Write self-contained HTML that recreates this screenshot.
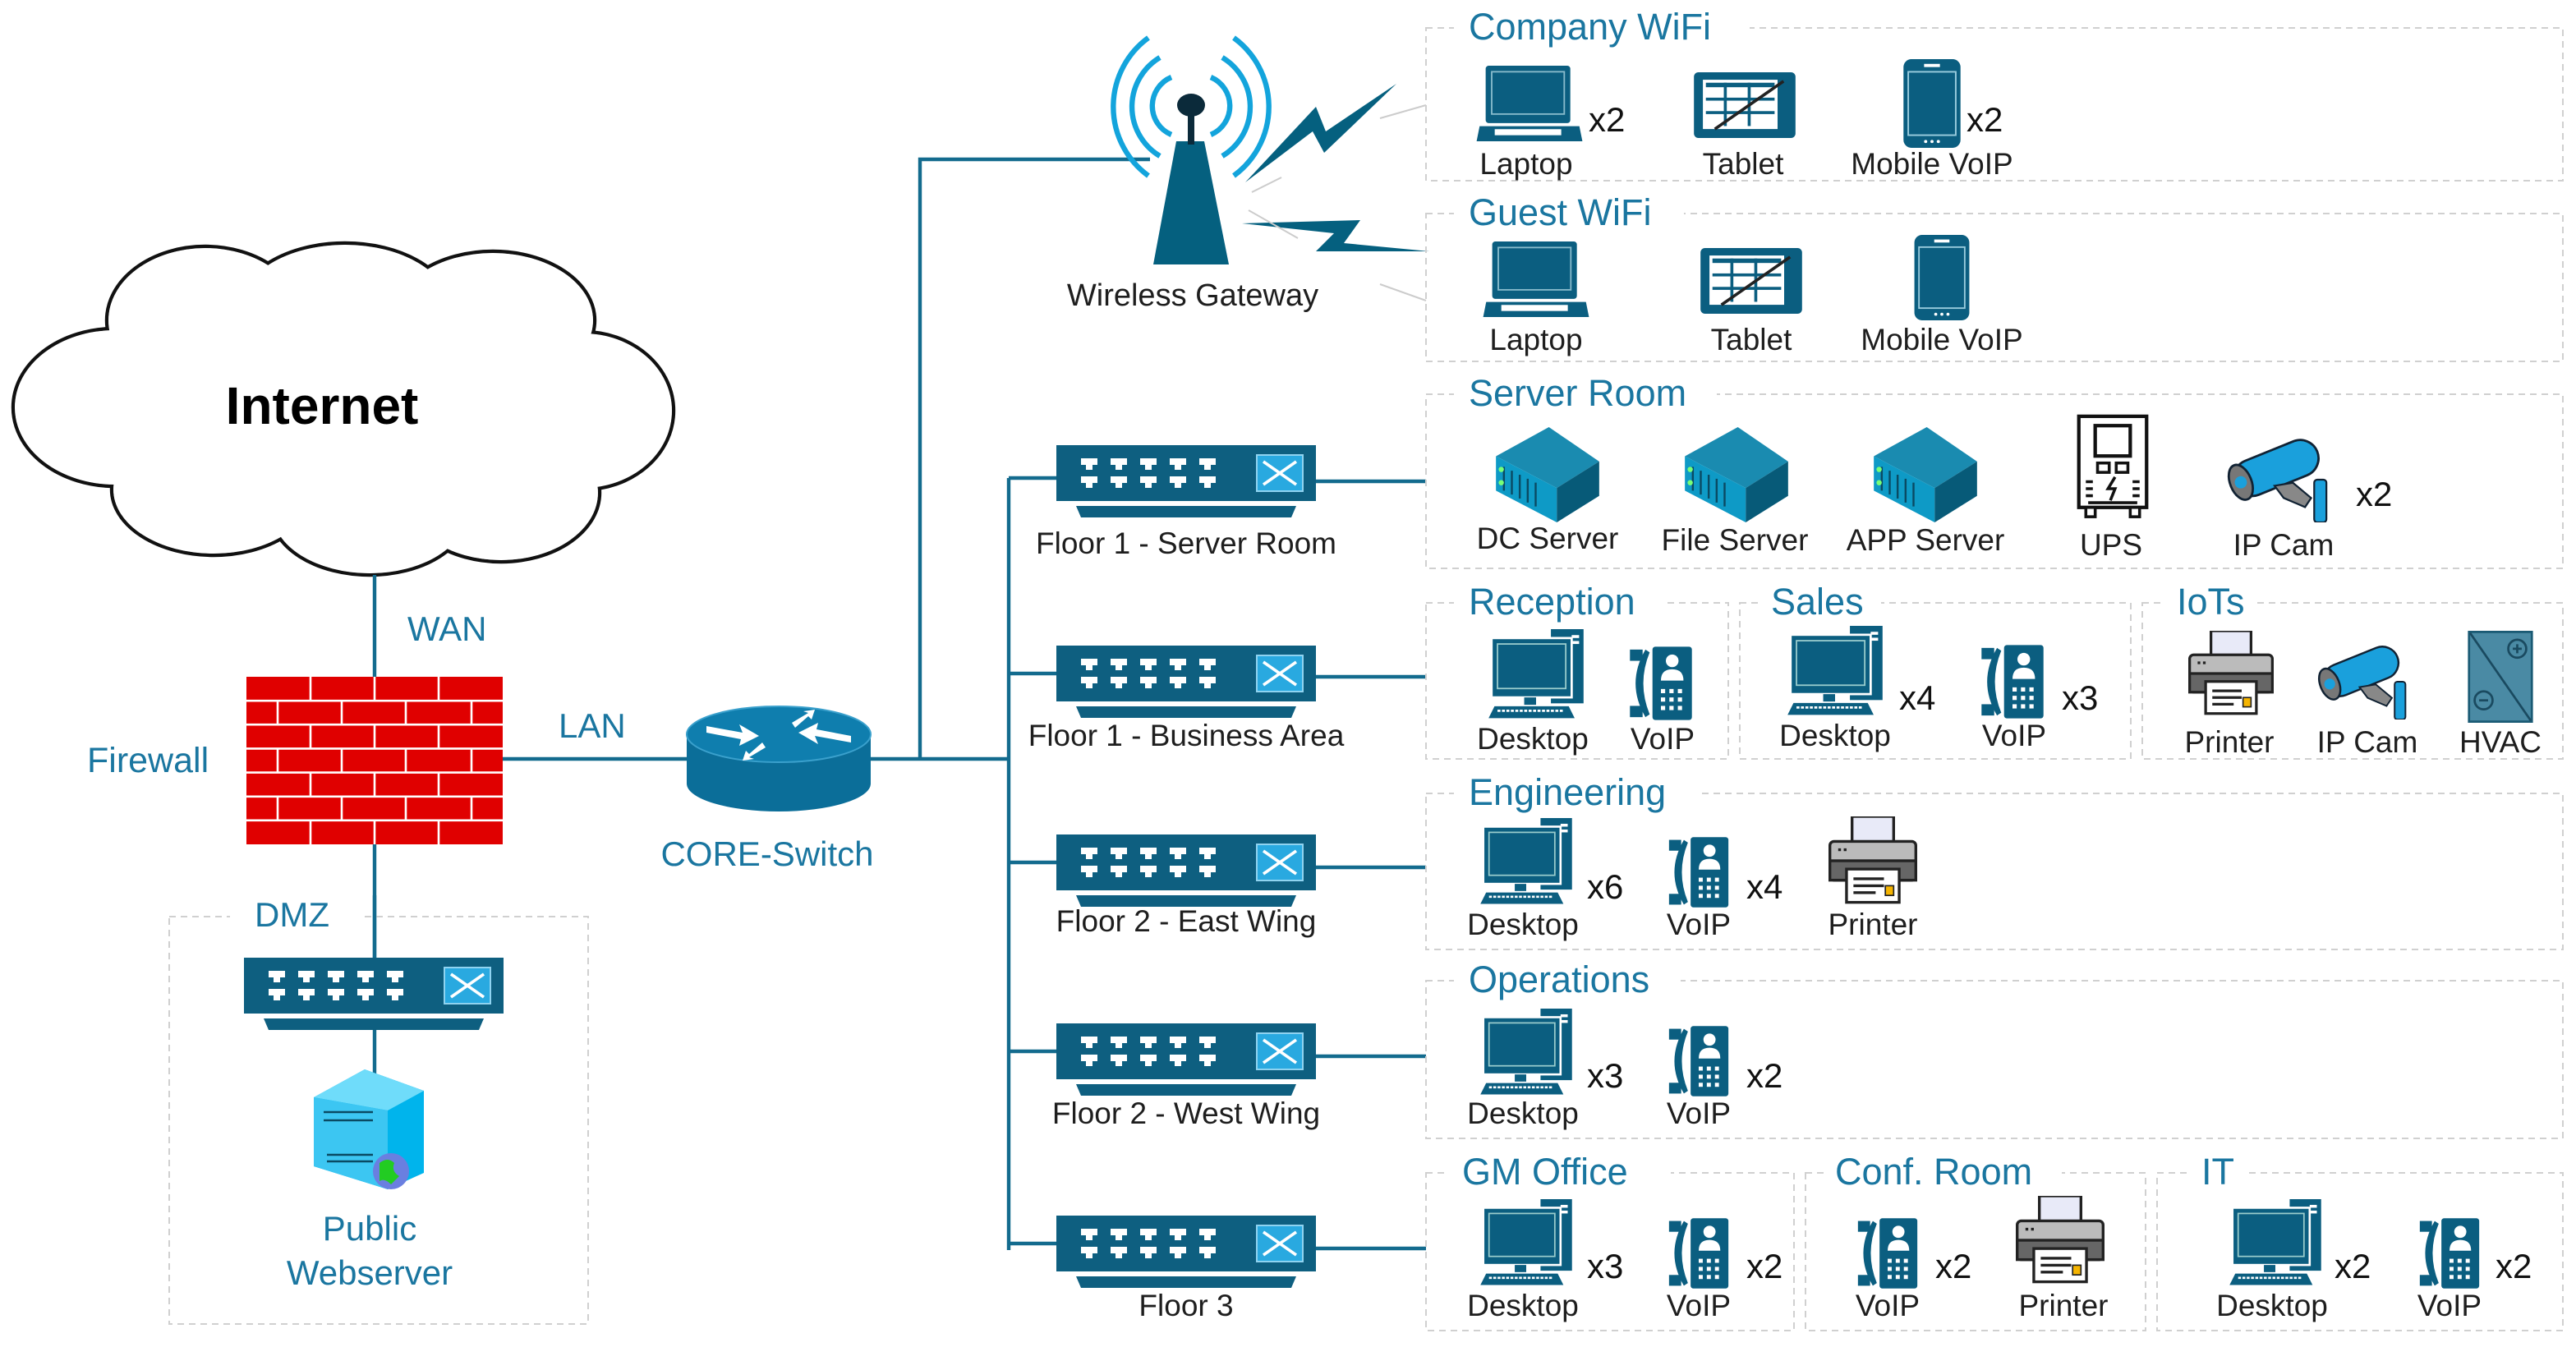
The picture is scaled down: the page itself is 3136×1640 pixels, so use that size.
<!DOCTYPE html>
<html><head><meta charset="utf-8"><style>
html,body{margin:0;padding:0;background:#fff}
svg{display:block}
text{font-family:"Liberation Sans",sans-serif}
.t{fill:#1a76a0;font-size:22.5px}
.l{fill:#1e1e1e;font-size:18.5px;text-anchor:middle}
.x{fill:#111;font-size:21px}
.b{fill:none;stroke:#d0d0d0;stroke-width:1;stroke-dasharray:4 3}
.ln{stroke:#136b8e;stroke-width:2.2;fill:none}
</style></head><body>
<svg width="3136" height="1640" viewBox="0 0 1568 820" xmlns="http://www.w3.org/2000/svg">
<defs>
<symbol id="sw" viewBox="0 0 158 44">
<rect x="0" y="0" width="158" height="34" fill="#0e5f80"/>
<g fill="#fff">
<path d="M15 8h10v4h-3v3h-4v-3h-3z M33 8h10v4h-3v3h-4v-3h-3z M51 8h10v4h-3v3h-4v-3h-3z M69 8h10v4h-3v3h-4v-3h-3z M87 8h10v4h-3v3h-4v-3h-3z"/>
<path d="M15 19h10v4h-3v3h-4v-3h-3z M33 19h10v4h-3v3h-4v-3h-3z M51 19h10v4h-3v3h-4v-3h-3z M69 19h10v4h-3v3h-4v-3h-3z M87 19h10v4h-3v3h-4v-3h-3z"/>
</g>
<rect x="122" y="6" width="28" height="22" fill="#29a9e0" stroke="#8fd3f0" stroke-width="1"/>
<path d="M126 10l20 14M146 10l-20 14" stroke="#fff" stroke-width="1.8"/>
<polygon points="12,37 146,37 143,44 15,44" fill="#0e5f80"/>
</symbol>
<symbol id="desk" viewBox="0 0 72 62">
<rect x="46" y="0" width="22" height="50" fill="#0b5e80"/>
<rect x="60" y="4" width="5" height="2" fill="#fff"/><rect x="60" y="8" width="5" height="2" fill="#fff"/>
<rect x="6" y="6" width="54" height="40" fill="#0b5e80" stroke="#fff" stroke-width="1.5"/>
<rect x="10" y="10" width="46" height="30" fill="#0b5e80" stroke="#9cc" stroke-width="1"/>
<rect x="28" y="46" width="8" height="5" fill="#0b5e80"/>
<polygon points="8,52 58,52 62,60 4,60" fill="#0b5e80"/>
<path d="M10 55h44" stroke="#fff" stroke-width="1.5" stroke-dasharray="2 1"/>
</symbol>
<symbol id="voip" viewBox="0 0 50 56">
<path d="M14 4 Q0 28 14 52 L17 50 Q8 28 17 6Z" fill="#0b5e80"/>
<rect x="3" y="4" width="9" height="8" fill="#0b5e80"/><rect x="3" y="44" width="9" height="8" fill="#0b5e80"/>
<rect x="19" y="2" width="28" height="52" rx="2" fill="#0b5e80"/>
<circle cx="33" cy="12" r="4.5" fill="#fff"/>
<path d="M25 26 Q25 18 33 18 Q41 18 41 26Z" fill="#fff"/>
<g fill="#fff"><rect x="25" y="32" width="3" height="3"/><rect x="31" y="32" width="3" height="3"/><rect x="37" y="32" width="3" height="3"/><rect x="25" y="38" width="3" height="3"/><rect x="31" y="38" width="3" height="3"/><rect x="37" y="38" width="3" height="3"/><rect x="25" y="44" width="3" height="3"/><rect x="31" y="44" width="3" height="3"/><rect x="37" y="44" width="3" height="3"/></g>
</symbol>
<symbol id="prn" viewBox="0 0 66 64">
<rect x="18" y="0" width="30" height="20" fill="#e8eaf8" stroke="#222" stroke-width="2"/>
<rect x="2" y="18" width="62" height="28" rx="3" fill="#bbb" stroke="#222" stroke-width="2"/>
<rect x="2" y="32" width="62" height="14" fill="#666" stroke="#222" stroke-width="2"/>
<rect x="14" y="38" width="38" height="24" fill="#fff" stroke="#222" stroke-width="2"/>
<path d="M19 45h22M19 50h22M19 55h16" stroke="#222" stroke-width="2"/>
<rect x="42" y="50" width="6" height="7" fill="#f5b400" stroke="#222"/>
<path d="M8 24h8" stroke="#222" stroke-width="2" stroke-dasharray="2 2"/>
</symbol>
<symbol id="lap" viewBox="0 0 70 50">
<rect x="6" y="0" width="56" height="38" rx="2" fill="#0b5e80"/>
<rect x="10" y="4" width="48" height="28" fill="#0b5e80" stroke="#8bc" stroke-width="1"/>
<polygon points="2,40 68,40 70,50 0,50" fill="#0b5e80"/>
<rect x="12" y="42" width="44" height="4" fill="#fff"/>
</symbol>
<symbol id="tab" viewBox="0 0 68 44">
<rect x="0" y="0" width="68" height="44" rx="3" fill="#0b5e80"/>
<rect x="6" y="5" width="50" height="33" fill="#fff"/>
<g fill="#0b5e80"><rect x="8" y="7" width="46" height="3"/><rect x="20" y="7" width="2" height="29"/><rect x="36" y="7" width="2" height="29"/><rect x="8" y="17" width="46" height="2"/><rect x="8" y="26" width="46" height="2"/></g>
<path d="M14 38 L60 6" stroke="#222" stroke-width="2"/>
</symbol>
<symbol id="mob" viewBox="0 0 36 56">
<rect x="0" y="0" width="36" height="56" rx="5" fill="#0b5e80"/>
<rect x="3" y="8" width="30" height="40" fill="#0b5e80" stroke="#9cd" stroke-width="1"/>
<rect x="13" y="3" width="10" height="2" fill="#fff"/>
<circle cx="14" cy="52" r="1" fill="#fff"/><circle cx="18" cy="52" r="1" fill="#fff"/><circle cx="22" cy="52" r="1" fill="#fff"/>
</symbol>
<symbol id="srv" viewBox="0 0 86 72">
<polygon points="44,0 82,26 50,46 4,22" fill="#1a8bb0"/>
<polygon points="4,22 50,46 50,72 4,48" fill="#0e9ac6"/>
<polygon points="50,46 82,26 82,52 50,72" fill="#075a78"/>
<g stroke="#0a4a63" stroke-width="1.5"><path d="M10 30v18M16 33v18M22 36v18M28 39v18M34 42v18"/></g>
<circle cx="8" cy="32" r="2" fill="#7f7"/><circle cx="8" cy="42" r="2" fill="#7f7"/>
</symbol>
<symbol id="ups" viewBox="0 0 62 90">
<rect x="2" y="2" width="58" height="78" fill="#fff" stroke="#111" stroke-width="3"/>
<rect x="16" y="10" width="30" height="26" fill="#fff" stroke="#111" stroke-width="3"/>
<rect x="18" y="42" width="10" height="8" fill="#fff" stroke="#111" stroke-width="2.5"/><rect x="34" y="42" width="10" height="8" fill="#fff" stroke="#111" stroke-width="2.5"/>
<path d="M33 54 l-6 10 h6 l-4 10" stroke="#111" stroke-width="2.5" fill="none"/>
<path d="M8 58h6M8 64h6M8 70h6M48 58h6M48 64h6M48 70h6M10 76h42" stroke="#111" stroke-width="2.5"/>
<rect x="8" y="80" width="8" height="8" fill="#fff" stroke="#111" stroke-width="2.5"/><rect x="46" y="80" width="8" height="8" fill="#fff" stroke="#111" stroke-width="2.5"/>
</symbol>
<symbol id="cam" viewBox="0 0 82 56">
<g transform="rotate(-22 36 20)">
<rect x="6" y="8" width="58" height="24" rx="12" fill="#1aa0dc" stroke="#123" stroke-width="1.5"/>
<ellipse cx="10" cy="20" rx="7" ry="12" fill="#777" stroke="#123" stroke-width="1.5"/>
<circle cx="10" cy="20" r="4" fill="#1aa0dc"/>
</g>
<polygon points="34,32 46,30 58,40 54,46 40,40" fill="#888" stroke="#123" stroke-width="1.2"/>
<rect x="60" y="28" width="8" height="28" rx="2" fill="#1aa0dc" stroke="#123" stroke-width="1.2"/>
</symbol>
<symbol id="hvac" viewBox="0 0 58 82">
<rect x="1" y="1" width="56" height="80" fill="#4a8aa4" stroke="#1a5a74" stroke-width="2"/>
<path d="M2 2L56 80" stroke="#1a4a60" stroke-width="2"/>
<circle cx="44" cy="16" r="8" fill="none" stroke="#1a4a60" stroke-width="2"/><path d="M40 16h8M44 12v8" stroke="#1a4a60" stroke-width="2"/>
<circle cx="14" cy="62" r="8" fill="none" stroke="#1a4a60" stroke-width="2"/><path d="M10 62h8" stroke="#1a4a60" stroke-width="2"/>
</symbol>
</defs>

<!-- Cloud -->
<g stroke="#111" stroke-width="2.2" fill="#fff">
<ellipse cx="70" cy="248" rx="62" ry="48"/><ellipse cx="125" cy="195" rx="60" ry="45"/><ellipse cx="210" cy="188" rx="65" ry="40"/>
<ellipse cx="300" cy="195" rx="62" ry="42"/><ellipse cx="355" cy="250" rx="55" ry="48"/><ellipse cx="305" cy="300" rx="60" ry="42"/>
<ellipse cx="225" cy="312" rx="60" ry="38"/><ellipse cx="130" cy="298" rx="62" ry="40"/>
</g>
<g fill="#fff">
<ellipse cx="70" cy="248" rx="61" ry="47"/><ellipse cx="125" cy="195" rx="59" ry="44"/><ellipse cx="210" cy="188" rx="64" ry="39"/>
<ellipse cx="300" cy="195" rx="61" ry="41"/><ellipse cx="355" cy="250" rx="54" ry="47"/><ellipse cx="305" cy="300" rx="59" ry="41"/>
<ellipse cx="225" cy="312" rx="59" ry="37"/><ellipse cx="130" cy="298" rx="61" ry="39"/><ellipse cx="215" cy="250" rx="150" ry="70"/>
</g>
<text x="196" y="258" font-size="32" font-weight="bold" text-anchor="middle" fill="#000">Internet</text>

<!-- Left connectors -->
<path class="ln" d="M228 350V412M228 514V583M228 625V655M306 462H418M530 462H614M560 462V97H700"/>
<path class="ln" d="M614 291V761M614 291H643M614 410H643M614 525H643M614 640H643M614 757H643"/>
<path class="ln" d="M801 293H868M801 412H868M801 528H868M801 643H868M801 760H868"/>
<text x="248" y="390" font-size="21" fill="#1a76a0">WAN</text>
<text x="340" y="449" font-size="21" fill="#1a76a0">LAN</text>
<text x="53" y="470" font-size="21.5" fill="#1a76a0">Firewall</text>

<!-- Firewall -->
<rect x="150" y="412" width="156" height="102" fill="#e00000"/>
<g stroke="#fff" stroke-width="1.3">
<path d="M150 426.6H306M150 441.1H306M150 455.7H306M150 470.3H306M150 484.9H306M150 499.4H306"/>
<path d="M189 412v14.6M228 412v14.6M267 412v14.6M169 426.6v14.5M208 426.6v14.5M247 426.6v14.5M287 426.6v14.5M189 441.1v14.6M228 441.1v14.6M267 441.1v14.6M169 455.7v14.6M208 455.7v14.6M247 455.7v14.6M287 455.7v14.6M189 470.3v14.6M228 470.3v14.6M267 470.3v14.6M169 484.9v14.5M208 484.9v14.5M247 484.9v14.5M287 484.9v14.5M189 499.4v14.6M228 499.4v14.6M267 499.4v14.6"/>
</g>

<!-- DMZ -->
<rect class="b" x="103" y="558" width="255" height="248"/>
<rect x="140" y="545" width="80" height="22" fill="#fff"/>
<text x="155" y="564" font-size="21" fill="#1a76a0">DMZ</text>
<path class="ln" d="M228 545V583"/>
<use href="#sw" x="148" y="583" width="159" height="44"/>
<polygon points="191,668 222,651 258,664 258,714 236,724 191,710" fill="#00b4ec"/>
<polygon points="191,668 222,651 258,664 236,676" fill="#6fdcfa"/>
<polygon points="191,668 236,676 236,724 191,710" fill="#3cc6f2"/>
<path d="M197 677h30M197 682h30M199 703h28M199 707h28" stroke="#0a4a63" stroke-width="1.3"/>
<circle cx="238" cy="713" r="11" fill="#6a7fe0"/><path d="M231 708q5-4 9 0q-2 5 3 8l-5 5q-4-4-7-2z" fill="#2c2"/>
<text x="225" y="755" font-size="21" text-anchor="middle" fill="#1a76a0">Public</text>
<text x="225" y="782" font-size="21" text-anchor="middle" fill="#1a76a0">Webserver</text>

<!-- Core switch -->
<ellipse cx="474" cy="477" rx="56" ry="17" fill="#0b6e99"/>
<rect x="418" y="447" width="112" height="30" fill="#0b6e99"/>
<ellipse cx="474" cy="447" rx="56" ry="17" fill="#0f7eae" stroke="#3aa0cc" stroke-width="1"/>
<g fill="#fff"><polygon points="430,442 452,446 450,441 462,448 450,454 451,450 430,446"/><polygon points="518,452 496,448 498,453 486,446 498,440 497,444 518,448"/><polygon points="482,440 492,434 489,433 496,432 494,438 492,436 484,443"/><polygon points="466,455 456,461 459,462 452,463 454,457 456,459 464,452"/></g>
<text x="467" y="527" font-size="21" text-anchor="middle" fill="#1a76a0">CORE-Switch</text>

<!-- Wireless gateway -->
<g fill="none" stroke="#13a4dc" stroke-width="3.2" stroke-linecap="butt">
<path d="M713 47A19 19 0 0 0 713 82M737 47A19 19 0 0 1 737 82"/>
<path d="M706 35A35 35 0 0 0 706 95M744 35A35 35 0 0 1 744 95"/>
<path d="M699 23A52 52 0 0 0 699 107M751 23A52 52 0 0 1 751 107"/>
</g>
<polygon points="716,86 733,86 748,161 702,161" fill="#05607f"/>
<rect x="723" y="68" width="4" height="20" fill="#0b2a3a"/>
<ellipse cx="725" cy="64" rx="8.5" ry="7" fill="#0b2a3a"/>
<polygon points="758,111 801,65 807,80 850,51 806,93 799,80" fill="#05607f"/>
<polygon points="756,136 828,134 818,148 870,153 801,153 812,142" fill="#05607f"/>
<path d="M840 72L868 64M760 128L790 145M840 173L868 183M762 117L780 108" stroke="#ccc" stroke-width="1"/>
<text x="726" y="186" font-size="19" text-anchor="middle" fill="#1e1e1e">Wireless Gateway</text>

<!-- Floor switches -->
<use href="#sw" x="643" y="271" width="158" height="44"/>
<use href="#sw" x="643" y="393" width="158" height="44"/>
<use href="#sw" x="643" y="508" width="158" height="44"/>
<use href="#sw" x="643" y="623" width="158" height="44"/>
<use href="#sw" x="643" y="740" width="158" height="44"/>
<text class="l" x="722" y="337">Floor 1 - Server Room</text>
<text class="l" x="722" y="454">Floor 1 - Business Area</text>
<text class="l" x="722" y="567">Floor 2 - East Wing</text>
<text class="l" x="722" y="684">Floor 2 - West Wing</text>
<text class="l" x="722" y="801">Floor 3</text>

<!-- Group boxes -->
<rect class="b" x="868" y="17" width="692" height="93"/>
<rect class="b" x="868" y="130" width="692" height="90"/>
<rect class="b" x="868" y="240" width="692" height="106"/>
<rect class="b" x="868" y="367" width="184" height="95"/>
<rect class="b" x="1059" y="367" width="238" height="95"/>
<rect class="b" x="1304" y="367" width="256" height="95"/>
<rect class="b" x="868" y="483" width="692" height="95"/>
<rect class="b" x="868" y="597" width="692" height="96"/>
<rect class="b" x="868" y="714" width="224" height="96"/>
<rect class="b" x="1099" y="714" width="207" height="96"/>
<rect class="b" x="1313" y="714" width="247" height="96"/>
<g fill="#fff">
<rect x="885" y="6" width="180" height="22"/><rect x="885" y="119" width="140" height="22"/><rect x="885" y="229" width="160" height="22"/>
<rect x="885" y="356" width="128" height="22"/><rect x="1070" y="356" width="75" height="22"/><rect x="1318" y="356" width="55" height="22"/>
<rect x="885" y="472" width="148" height="22"/><rect x="885" y="586" width="138" height="22"/>
<rect x="882" y="703" width="135" height="22"/><rect x="1110" y="703" width="145" height="22"/><rect x="1332" y="703" width="35" height="22"/>
</g>
<text class="t" x="894" y="24">Company  WiFi</text>
<text class="t" x="894" y="137">Guest WiFi</text>
<text class="t" x="894" y="247">Server Room</text>
<text class="t" x="894" y="374">Reception</text>
<text class="t" x="1078" y="374">Sales</text>
<text class="t" x="1325" y="374">IoTs</text>
<text class="t" x="894" y="490">Engineering</text>
<text class="t" x="894" y="604">Operations</text>
<text class="t" x="890" y="721">GM  Office</text>
<text class="t" x="1117" y="721">Conf. Room</text>
<text class="t" x="1340" y="721">IT</text>

<!-- Company WiFi -->
<use href="#lap" x="896" y="40" width="70" height="46"/><text class="x" x="967" y="80">x2</text>
<use href="#tab" x="1028" y="44" width="68" height="40"/>
<use href="#mob" x="1158" y="36" width="36" height="54"/><text class="x" x="1197" y="80">x2</text>
<text class="l" x="929" y="106">Laptop</text><text class="l" x="1061" y="106">Tablet</text><text class="l" x="1176" y="106">Mobile VoIP</text>
<!-- Guest WiFi -->
<use href="#lap" x="900" y="147" width="70" height="46"/>
<use href="#tab" x="1032" y="151" width="68" height="40"/>
<use href="#mob" x="1164" y="143" width="36" height="52"/>
<text class="l" x="935" y="213">Laptop</text><text class="l" x="1066" y="213">Tablet</text><text class="l" x="1182" y="213">Mobile VoIP</text>
<!-- Server room -->
<use href="#srv" x="902" y="260" width="80" height="58"/>
<use href="#srv" x="1017" y="260" width="80" height="58"/>
<use href="#srv" x="1132" y="260" width="80" height="58"/>
<use href="#ups" x="1256" y="252" width="60" height="64"/>
<use href="#cam" x="1352" y="266" width="78" height="52"/><text class="x" x="1434" y="308">x2</text>
<text class="l" x="942" y="334">DC Server</text><text class="l" x="1056" y="335">File Server</text><text class="l" x="1172" y="335">APP Server</text><text class="l" x="1285" y="338">UPS</text><text class="l" x="1390" y="338">IP Cam</text>
<!-- Reception / Sales / IoTs -->
<use href="#desk" x="900" y="383" width="70" height="56"/>
<use href="#voip" x="986" y="392" width="50" height="48"/>
<use href="#desk" x="1082" y="381" width="70" height="56"/><text class="x" x="1156" y="432">x4</text>
<use href="#voip" x="1200" y="391" width="50" height="48"/><text class="x" x="1255" y="432">x3</text>
<use href="#prn" x="1326" y="384" width="64" height="52"/>
<use href="#cam" x="1404" y="392" width="76" height="46"/>
<use href="#hvac" x="1494" y="384" width="56" height="56"/>
<text class="l" x="933" y="456">Desktop</text><text class="l" x="1012" y="456">VoIP</text>
<text class="l" x="1117" y="454">Desktop</text><text class="l" x="1226" y="454">VoIP</text>
<text class="l" x="1357" y="458">Printer</text><text class="l" x="1441" y="458">IP Cam</text><text class="l" x="1522" y="458">HVAC</text>
<!-- Engineering -->
<use href="#desk" x="894" y="498" width="70" height="54"/><text class="x" x="966" y="547">x6</text>
<use href="#voip" x="1009" y="508" width="50" height="46"/><text class="x" x="1063" y="547">x4</text>
<use href="#prn" x="1108" y="497" width="64" height="54"/>
<text class="l" x="927" y="569">Desktop</text><text class="l" x="1034" y="569">VoIP</text><text class="l" x="1140" y="569">Printer</text>
<!-- Operations -->
<use href="#desk" x="894" y="614" width="70" height="54"/><text class="x" x="966" y="662">x3</text>
<use href="#voip" x="1009" y="623" width="50" height="46"/><text class="x" x="1063" y="662">x2</text>
<text class="l" x="927" y="684">Desktop</text><text class="l" x="1034" y="684">VoIP</text>
<!-- GM / Conf / IT -->
<use href="#desk" x="894" y="730" width="70" height="54"/><text class="x" x="966" y="778">x3</text>
<use href="#voip" x="1009" y="740" width="50" height="46"/><text class="x" x="1063" y="778">x2</text>
<use href="#voip" x="1124" y="740" width="50" height="46"/><text class="x" x="1178" y="778">x2</text>
<use href="#prn" x="1222" y="728" width="64" height="54"/>
<use href="#desk" x="1350" y="730" width="70" height="54"/><text class="x" x="1421" y="778">x2</text>
<use href="#voip" x="1466" y="740" width="50" height="46"/><text class="x" x="1519" y="778">x2</text>
<text class="l" x="927" y="801">Desktop</text><text class="l" x="1034" y="801">VoIP</text>
<text class="l" x="1149" y="801">VoIP</text><text class="l" x="1256" y="801">Printer</text>
<text class="l" x="1383" y="801">Desktop</text><text class="l" x="1491" y="801">VoIP</text>
</svg>
</body></html>
